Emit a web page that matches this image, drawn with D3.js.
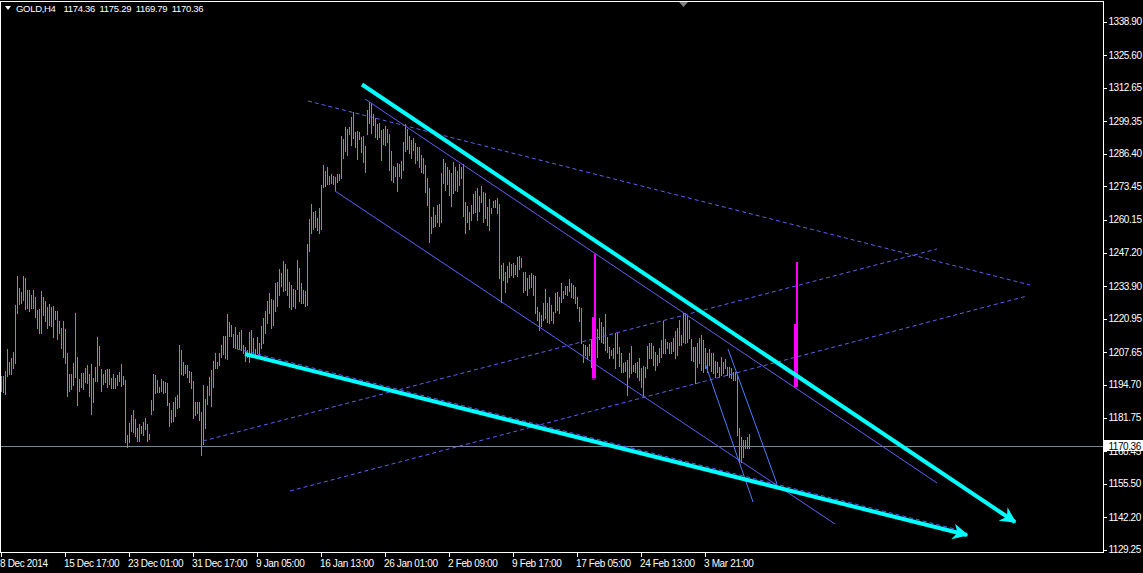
<!DOCTYPE html>
<html>
<head>
<meta charset="utf-8">
<script src="https://cdn.jsdelivr.net/npm/d3@7/dist/d3.min.js"></script>
<style>
html,body{margin:0;padding:0;background:#000;}
svg{display:block;}
text{font-family:"Liberation Sans",Arial,sans-serif;}
</style>
</head>
<body>
<svg id="chart" width="1143" height="573"></svg>
<script>
// ---- data (GOLD H4, one entry per bar) ----
const high = [
1198.3,1198.3,1200.2,1209.0,1203.9,1205.3,1207.6,1226.4,1237.9,1233.0,
1231.7,1237.9,1237.0,1232.4,1232.4,1230.4,1232.4,1229.6,1224.4,1224.7,
1232.0,1229.6,1228.0,1225.5,1227.0,1225.6,1226.0,1224.0,1224.0,1220.2,
1217.2,1220.1,1216.9,1207.4,1199.0,1199.0,1203.4,1223.1,1205.8,1196.9,
1199.6,1199.6,1201.3,1202.6,1199.0,1203.1,1197.3,1201.8,1213.7,1210.2,
1201.2,1199.2,1200.6,1201.0,1200.9,1197.3,1199.0,1197.3,1198.7,1199.7,
1203.0,1198.3,1196.5,1174.8,1179.7,1182.8,1184.8,1181.1,1177.5,1179.2,
1178.4,1180.1,1181.5,1179.2,1175.2,1188.7,1198.9,1198.7,1196.7,1194.0,
1196.9,1196.3,1196.0,1195.3,1187.7,1184.8,1187.8,1189.8,1190.7,1210.6,
1208.6,1203.9,1202.6,1202.6,1200.4,1200.0,1196.3,1188.1,1187.8,1188.1,
1184.1,1194.7,1189.1,1194.3,1197.7,1200.6,1204.2,1207.2,1203.9,1207.2,
1210.6,1214.3,1214.1,1222.7,1219.5,1218.5,1215.0,1217.6,1214.5,1215.8,
1216.4,1210.6,1209.9,1208.6,1215.8,
1216.5,1213.2,1208.8,1213.9,1211.2,1218.1,1221.1,1224.2,1228.0,1231.3,
1228.7,1228.4,1235.3,1235.7,1240.7,1239.2,1243.9,1242.7,1240.6,1235.4,
1234.4,1232.6,1232.4,1244.3,1241.0,1235.0,1232.4,1232.1,1250.5,1260.5,
1266.5,1263.5,1263.8,1261.1,1264.8,1274.0,1282.0,1279.7,1281.3,1277.7,
1278.4,1277.6,1277.1,1278.5,1278.4,1293.6,1292.1,1296.9,1296.1,1297.2,
1301.1,1303.1,1295.2,1295.6,1295.2,1293.2,1293.5,1289.5,1303.8,1307.1,
1306.4,1302.2,1300.5,1298.2,1298.8,1295.9,1296.1,1297.4,1296.1,1294.1,
1287.5,1281.6,1281.3,1282.9,1282.4,1283.6,1291.2,1298.1,1296.1,1293.5,
1291.9,1292.8,1290.8,1289.2,1289.0,1285.9,1284.9,1282.0,1276.9,1272.7,
1261.5,1265.4,1262.1,1266.1,1266.5,1278.9,1284.2,1282.9,1281.0,1280.0,
1278.9,1283.3,1281.0,1279.6,1282.4,1281.0,1282.4,1267.4,1265.7,1263.5,
1266.1,1270.5,1271.8,1272.7,1269.7,1273.6,1271.4,1271.0,1265.2,1268.3,
1264.8,1267.8,1268.1,1268.7,1266.5,
1242.3,1243.2,1239.6,1241.9,1243.6,1242.7,1243.2,1242.3,1245.3,1245.9,
1245.2,1239.6,1239.6,1237.0,1238.3,1239.0,1238.3,1237.9,1225.8,1223.8,
1222.5,1227.1,1232.6,1227.4,1229.7,1226.4,1223.8,1231.1,1231.7,1229.5,
1235.0,1232.1,1234.0,1234.0,1236.6,1235.3,1234.4,1233.7,1229.5,1225.8,
1225.1,1211.0,1210.6,1209.9,1211.0,1212.8,1211.9,1212.8,1216.8,1221.1,
1219.8,1217.6,1222.9,1213.9,1209.9,1208.6,1209.2,1215.2,1215.2,1209.9,
1207.2,1203.5,1203.9,1204.6,1207.2,1210.2,1202.6,1203.3,1203.9,1205.3,
1201.3,1202.2,1202.0,1210.2,1211.2,1211.2,1210.2,1207.9,1206.6,1209.2,
1212.5,1220.1,1212.8,1211.9,1211.2,1211.9,1213.2,1216.2,1217.2,1220.5,
1214.5,1223.4,1223.1,1222.5,1220.5,1212.8,1209.9,1209.9,1211.2,1213.2,
1214.5,1212.5,1209.2,1207.2,1209.0,1207.5,1207.2,1204.3,1203.9,1202.0,
1205.9,1203.9,1204.9,1202.0,1202.0,1201.3,1200.0,1200.0,1198.7,1177.5,
1174.2,1172.9,1172.9,1174.2,1175.29
];
const low = [
1192.3,1192.0,1191.0,1198.3,1198.9,1199.2,1201.3,1203.3,1223.4,1226.7,
1227.3,1228.3,1224.8,1225.4,1224.2,1225.1,1225.1,1221.8,1217.4,1215.4,
1215.4,1222.5,1220.2,1217.2,1218.5,1218.1,1213.9,1220.7,1212.9,1215.2,
1209.2,1205.9,1203.4,1190.5,1192.4,1193.1,1194.7,1197.9,1186.7,1192.3,
1194.0,1193.1,1195.7,1195.5,1190.5,1183.3,1188.1,1196.4,1196.4,1202.6,
1192.4,1195.1,1195.7,1193.8,1195.1,1193.4,1193.4,1193.4,1194.7,1196.3,
1194.4,1195.2,1172.2,1170.2,1172.2,1176.6,1176.2,1174.6,1172.5,1172.5,
1175.5,1174.8,1177.2,1172.6,1173.1,1183.2,1184.8,1191.6,1192.0,1192.0,
1192.3,1191.6,1192.0,1186.7,1178.5,1180.1,1180.4,1182.4,1185.7,1186.0,
1198.9,1198.7,1199.6,1198.0,1196.0,1193.4,1181.5,1182.8,1183.7,1180.8,
1166.9,1171.1,1177.8,1187.0,1190.7,1186.5,1194.0,1201.3,1201.6,1202.6,
1205.9,1206.9,1205.3,1204.9,1214.3,1214.3,1209.9,1209.2,1209.2,1209.2,
1208.6,1207.2,1204.2,1205.9,1203.9,
1205.9,1207.2,1206.2,1207.2,1206.6,1209.2,1211.2,1215.4,1219.1,1223.4,
1217.2,1218.5,1224.2,1226.0,1230.4,1234.0,1232.0,1232.4,1230.4,1225.8,
1224.7,1226.0,1225.1,1232.8,1228.1,1227.1,1227.1,1226.0,1226.4,1248.0,
1255.1,1256.4,1257.5,1256.2,1254.9,1256.7,1273.4,1273.6,1274.4,1274.4,
1275.0,1274.3,1272.0,1275.4,1276.0,1276.7,1284.6,1287.7,1285.9,1294.3,
1289.9,1292.8,1289.2,1284.2,1292.2,1287.3,1283.3,1279.3,1294.1,1298.8,
1294.5,1297.8,1292.9,1292.2,1293.2,1283.9,1290.3,1289.9,1291.2,1280.0,
1276.0,1275.4,1277.6,1271.8,1277.6,1276.7,1280.0,1287.7,1288.2,1286.6,
1284.6,1287.9,1282.9,1283.9,1281.3,1279.3,1278.7,1271.4,1266.1,1251.6,
1254.9,1257.5,1257.8,1259.5,1257.8,1259.5,1274.7,1272.0,1274.3,1270.1,
1265.7,1270.7,1272.0,1271.8,1274.0,1276.9,1261.7,1255.1,1259.5,1256.4,
1260.1,1262.8,1263.5,1260.1,1263.8,1267.4,1259.5,1260.8,1258.2,1256.2,
1263.1,1265.4,1265.4,1263.1,1237.0,
1227.7,1236.3,1231.7,1235.7,1237.4,1238.3,1237.7,1238.6,1237.9,1240.6,
1241.6,1231.7,1232.4,1230.4,1233.0,1233.7,1230.4,1223.1,1220.5,1216.5,
1218.1,1220.5,1221.1,1219.8,1219.1,1220.5,1219.4,1223.8,1224.4,1223.1,
1227.7,1229.1,1230.7,1230.4,1232.1,1229.7,1229.1,1227.4,1225.1,1220.2,
1211.2,1203.9,1206.6,1204.9,1206.6,1202.0,1198.0,1203.3,1205.9,1212.8,
1211.9,1211.2,1208.6,1207.9,1205.3,1206.6,1205.3,1201.3,1207.2,1202.2,
1200.0,1200.0,1200.4,1190.7,1198.0,1199.3,1200.4,1200.0,1198.0,1196.7,
1194.0,1190.1,1197.7,1201.3,1205.3,1205.3,1202.6,1200.6,1202.6,1203.9,
1205.9,1207.5,1207.5,1209.2,1207.2,1207.2,1208.3,1205.3,1206.6,1210.6,
1210.6,1211.9,1211.5,1211.9,1213.2,1204.6,1204.3,1195.3,1202.0,1203.5,
1200.6,1200.0,1201.3,1200.0,1202.6,1200.4,1199.3,1198.0,1200.0,1197.7,
1198.7,1199.3,1201.3,1198.7,1197.7,1197.3,1196.7,1196.7,1174.8,1164.3,
1164.3,1166.3,1169.6,1169.6,1169.79
];
const symbolName = "GOLD,H4";
const lastOHLC = [1174.36, 1175.29, 1169.79, 1170.36];
const bidPrice = 1170.36;

const timeTickIndex = [0, 32, 64, 96, 128, 160, 192, 224, 256, 288, 320, 352];
const timeTickLabels = ["8 Dec 2014","15 Dec 17:00","23 Dec 01:00","31 Dec 17:00","9 Jan 05:00",
  "16 Jan 13:00","26 Jan 01:00","2 Feb 09:00","9 Feb 17:00","17 Feb 05:00","24 Feb 13:00","3 Mar 21:00"];
const priceTicks = [1338.90,1325.60,1312.65,1299.35,1286.40,1273.45,1260.15,1247.20,1233.90,
  1220.95,1207.65,1194.70,1181.75,1168.45,1155.50,1142.20,1129.25];

// drawn objects: [barIndex, price] endpoints
const cyanLines = [
  [[180.25, 1313.9], [506.75, 1140.33]],
  [[121.75, 1206.98], [482.75, 1135.17]]
];
const channelLines = [
  [[181.75, 1308.15], [467.75, 1155.8]],
  [[166.75, 1271.65], [416.75, 1139.53]]
];
const dashedLines = [
  [[153.25, 1307.36], [514.25, 1234.36]],
  [[100.75, 1172.46], [467.75, 1248.64]],
  [[144.25, 1152.63], [512.75, 1229.99]],
  [[117.75, 1208.97], [479.25, 1137.03]]
];
const steepLines = [
  [[351.75, 1203.41], [375.75, 1148.26]],
  [[363.25, 1208.97], [387.75, 1155.4]]
];
const magentaMain = [
  [[296.75, 1246.66], [296.75, 1197.26]],
  [[397.75, 1243.48], [397.75, 1194.29]]
];
const magentaSide = [
  [[295.75, 1221.66], [295.75, 1197.26]],
  [[396.75, 1218.88], [396.75, 1194.29]]
];

// ---- scales ----
const svg = d3.select("#chart");
const plotRight = 1103.5, plotBottom = 552.5, plotTop = 1.5;
const x = d3.scaleLinear().domain([0, 1]).range([1.5, 3.5]);
const y = d3.scaleLinear().domain([1129.25, 1338.9]).range([549.9, 21.5]);

svg.append("rect").attr("width",1143).attr("height",573).attr("fill","#000");

svg.append("clipPath").attr("id","plotclip").append("rect")
  .attr("x",1).attr("y",2).attr("width",plotRight-1.5).attr("height",plotBottom-2.5);
const plot = svg.append("g").attr("clip-path","url(#plotclip)");

// bid line
const by = Math.round(y(bidPrice));
plot.append("line").attr("x1",0).attr("x2",plotRight).attr("y1",by+0.5).attr("y2",by+0.5)
  .attr("stroke","#778899").attr("stroke-width",1);

// bars
plot.append("g").selectAll("line").data(high).join("line")
  .attr("x1",(d,i)=>x(i)).attr("x2",(d,i)=>x(i))
  .attr("y1",d=>Math.round(y(d)))
  .attr("y2",(d,i)=>Math.max(Math.round(y(low[i]))+1, Math.round(y(d))+2))
  .attr("stroke","#32cd32").attr("stroke-width",1).attr("shape-rendering","crispEdges");

const seg = (g, lines, color, w, dash) => g.append("g").selectAll("line").data(lines).join("line")
  .attr("x1",d=>x(d[0][0])).attr("y1",d=>y(d[0][1]))
  .attr("x2",d=>x(d[1][0])).attr("y2",d=>y(d[1][1]))
  .attr("stroke",color).attr("stroke-width",w).attr("stroke-dasharray",dash||null);

seg(plot, dashedLines, "#5f5ff0", 1, "4,3");
seg(plot, channelLines, "#6060f0", 1);
seg(plot, steepLines, "#4a7cff", 1);
seg(plot, magentaMain, "#ff00ff", 2).attr("shape-rendering","crispEdges");
seg(plot, magentaSide, "#ff00ff", 2).attr("shape-rendering","crispEdges");
// small foot at the bottom of each magenta marker
plot.append("g").selectAll("line").data(magentaMain).join("line")
  .attr("x1",d=>x(d[1][0])-3).attr("x2",d=>x(d[1][0])+0.5)
  .attr("y1",d=>y(d[1][1])+0.5).attr("y2",d=>y(d[1][1])+0.5)
  .attr("stroke","#ff00ff").attr("stroke-width",1);

// cyan arrows
const defs = svg.append("defs");
defs.append("marker").attr("id","arrow").attr("viewBox","0 0 10 10").attr("refX",9).attr("refY",5)
  .attr("markerWidth",4).attr("markerHeight",4).attr("markerUnits","strokeWidth").attr("orient","auto")
  .append("path").attr("d","M0,0 L10,5 L0,10 L3,5 Z").attr("fill","#00ffff");
seg(plot, cyanLines, "#00ffff", 4).attr("marker-end","url(#arrow)");

// frame
svg.append("path").attr("d",`M0.5,${plotTop} H${plotRight} V${plotBottom} H0.5 Z`)
  .attr("fill","none").attr("stroke","#fff").attr("stroke-width",1).attr("shape-rendering","crispEdges");

// price axis
const pa = svg.append("g");
pa.selectAll("line").data(priceTicks).join("line")
  .attr("x1",plotRight).attr("x2",plotRight+3).attr("y1",d=>Math.round(y(d))+0.5).attr("y2",d=>Math.round(y(d))+0.5)
  .attr("stroke","#fff").attr("shape-rendering","crispEdges");
pa.selectAll("text").data(priceTicks).join("text")
  .attr("x",1108.5).attr("y",d=>y(d)+3.5).attr("fill","#fff").attr("font-size","10px")
  .attr("letter-spacing","-0.45px")
  .text(d=>d.toFixed(2));

// bid label
svg.append("rect").attr("x",1104).attr("y",by-6).attr("width",39).attr("height",11).attr("fill","#fff");
svg.append("text").attr("x",1108.5).attr("y",by+3.5).attr("fill","#000").attr("font-size","10px")
  .attr("letter-spacing","-0.45px").text(bidPrice.toFixed(2));

// time axis
const ta = svg.append("g");
ta.selectAll("line").data(timeTickIndex).join("line")
  .attr("x1",d=>x(d)).attr("x2",d=>x(d)).attr("y1",plotBottom).attr("y2",plotBottom+4)
  .attr("stroke","#fff").attr("shape-rendering","crispEdges");
ta.selectAll("text").data(timeTickIndex).join("text")
  .attr("x",d=>Math.max(0,x(d)-1.5)).attr("y",567).attr("fill","#fff").attr("font-size","10px")
  .attr("letter-spacing","-0.35px")
  .text((d,i)=>timeTickLabels[i]);

// header
svg.append("path").attr("d","M5,6 L11,6 L8,10 Z").attr("fill","#fff");
svg.append("text").attr("x",16).attr("y",12).attr("fill","#fff").attr("font-size","9.5px")
  .attr("letter-spacing","-0.3px").text(symbolName);
svg.append("g").selectAll("text").data(lastOHLC).join("text")
  .attr("x",(d,i)=>63.5 + i*36.1).attr("y",12).attr("fill","#fff").attr("font-size","9.5px")
  .attr("letter-spacing","-0.3px").text(d=>d.toFixed(2));

// shift marker
svg.append("path").attr("d","M679,2 L688,2 L683.5,7 Z").attr("fill","#808080");
</script>
</body>
</html>
